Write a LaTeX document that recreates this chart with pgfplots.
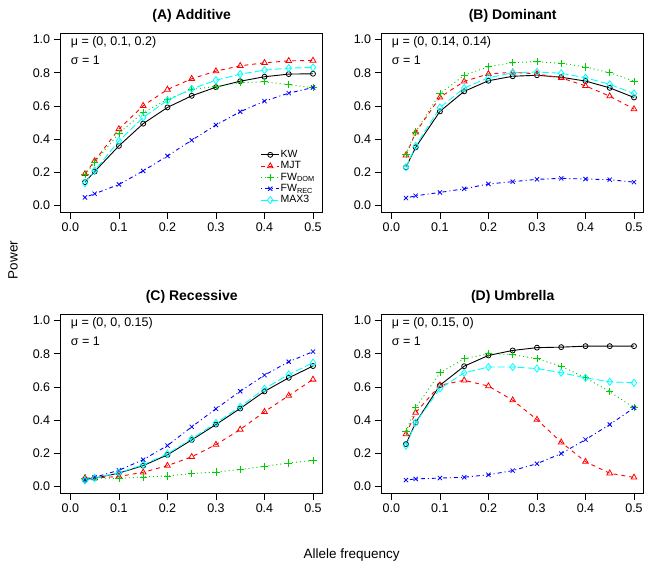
\documentclass[border=0pt]{standalone}
\usepackage{fontspec}
\setmainfont{Liberation Sans}
\usepackage{pgfplots}
\usepackage{pgfplotstable}
\pgfplotsset{compat=1.18}
\definecolor{rgreen}{HTML}{00CD00}
\definecolor{rcyan}{HTML}{00FFFF}
\definecolor{rred}{HTML}{FF0000}
\definecolor{rblue}{HTML}{0000FF}

% columns: allele frequency, KW, MJT, FW_DOM, FW_REC, MAX3
\pgfplotstableread{
x    kw    mjt   dom   rec   max
0.03 0.140 0.190 0.184 0.048 0.134
0.05 0.204 0.268 0.260 0.070 0.210
0.10 0.359 0.461 0.435 0.126 0.389
0.15 0.493 0.601 0.561 0.208 0.531
0.20 0.591 0.699 0.639 0.298 0.633
0.25 0.661 0.764 0.700 0.393 0.703
0.30 0.713 0.810 0.717 0.485 0.755
0.35 0.749 0.842 0.741 0.565 0.792
0.40 0.776 0.860 0.745 0.629 0.816
0.45 0.792 0.872 0.729 0.677 0.828
0.50 0.794 0.874 0.709 0.711 0.832
}\additive
\pgfplotstableread{
x    kw    mjt   dom   rec   max
0.03 0.230 0.302 0.308 0.044 0.230
0.05 0.350 0.440 0.443 0.058 0.358
0.10 0.567 0.652 0.674 0.078 0.590
0.15 0.688 0.748 0.785 0.100 0.708
0.20 0.752 0.793 0.837 0.129 0.770
0.25 0.779 0.803 0.861 0.143 0.800
0.30 0.785 0.793 0.867 0.157 0.805
0.35 0.773 0.769 0.857 0.163 0.797
0.40 0.750 0.721 0.835 0.159 0.770
0.45 0.709 0.659 0.800 0.155 0.730
0.50 0.651 0.581 0.749 0.140 0.675
}\dominant
\pgfplotstableread{
x    kw    mjt   dom   rec   max
0.03 0.040 0.050 0.050 0.040 0.035
0.05 0.050 0.050 0.050 0.055 0.050
0.10 0.080 0.060 0.048 0.097 0.082
0.15 0.125 0.085 0.057 0.161 0.130
0.20 0.190 0.125 0.063 0.246 0.196
0.25 0.280 0.178 0.077 0.359 0.287
0.30 0.373 0.252 0.087 0.468 0.383
0.35 0.470 0.343 0.101 0.574 0.480
0.40 0.573 0.450 0.121 0.671 0.589
0.45 0.655 0.548 0.141 0.752 0.675
0.50 0.726 0.645 0.157 0.813 0.746
}\recessive
\pgfplotstableread{
x    kw    mjt   dom   rec   max
0.03 0.255 0.315 0.330 0.038 0.245
0.05 0.385 0.445 0.475 0.045 0.385
0.10 0.610 0.610 0.685 0.050 0.590
0.15 0.725 0.640 0.770 0.055 0.685
0.20 0.790 0.605 0.800 0.070 0.720
0.25 0.820 0.520 0.795 0.095 0.720
0.30 0.837 0.403 0.770 0.137 0.711
0.35 0.840 0.266 0.725 0.198 0.686
0.40 0.846 0.149 0.655 0.282 0.655
0.45 0.846 0.079 0.571 0.373 0.631
0.50 0.846 0.054 0.474 0.474 0.625
}\umbrella

\pgfplotsset{
  panel/.style={
    scale only axis, width=262pt, height=179pt,
    xmin=-0.02, xmax=0.52, ymin=-0.04, ymax=1.04,
    xtick={0,0.1,0.2,0.3,0.4,0.5}, ytick={0,0.2,0.4,0.6,0.8,1},
    tick align=outside, xtick pos=left, ytick pos=left,
    major tick length=7pt,
    axis line style={line width=0.8pt},
    tick style={line width=0.6pt, black},
    ticklabel style={font=\fontsize{12.5}{14}\selectfont},
    /pgf/number format/fixed, /pgf/number format/fixed zerofill,
    /pgf/number format/precision=1, /pgf/number format/assume math mode=true,
    title style={font=\fontsize{14}{16}\selectfont\bfseries, at={(0.5,1)}, anchor=center, yshift=11pt},
    every axis plot/.append style={line width=0.9pt, mark options={solid, line width=0.8pt}},
    legend image code/.code={\draw[mark repeat=2, mark phase=2, ##1] plot coordinates {(0pt,0pt) (9pt,0pt) (18pt,0pt)};},
  },
  kw/.style={black, solid, mark=o, mark size=2.5pt},
  mjt/.style={rred, dash pattern=on 4pt off 4pt, mark=triangle, mark size=3.3pt},
  dom/.style={rgreen, dash pattern=on 1pt off 3pt, mark=+, mark size=3.6pt},
  rec/.style={rblue, dash pattern=on 1pt off 3pt on 4pt off 3pt, mark=x, mark size=3pt},
  max/.style={rcyan, dash pattern=on 7pt off 3pt, mark=diamond, mark size=3.6pt},
}

\newcommand{\allseries}[1]{%
  \addplot[kw] table[x=x, y=kw] {#1};
  \addplot[mjt] table[x=x, y=mjt] {#1};
  \addplot[dom] table[x=x, y=dom] {#1};
  \addplot[rec] table[x=x, y=rec] {#1};
  \addplot[max] table[x=x, y=max] {#1};
}
\newcommand{\params}[1]{%
  \node[anchor=west, font=\fontsize{12.5}{14}\selectfont, inner sep=0pt] at (rel axis cs:0.038,0.946) {μ = #1};
  \node[anchor=west, font=\fontsize{12.5}{14}\selectfont, inner sep=0pt] at (rel axis cs:0.038,0.849) {σ = 1};
}

\begin{document}
\begin{tikzpicture}
\useasboundingbox (0pt,0pt) rectangle (651pt,570pt);

\begin{axis}[panel, at={(60.7pt,358pt)}, anchor=south west, title={(A) Additive},
  legend style={at={(0.763,0.352)}, anchor=north west, draw=none, fill=none,
    font=\fontsize{10.5}{11}\selectfont, inner sep=0pt, row sep=0pt,
    nodes={inner sep=1pt, text height=7.3pt, text depth=2pt}},
  legend cell align=left]
  \allseries{\additive}
  \legend{KW, MJT, FW\textsubscript{DOM}, FW\textsubscript{REC}, MAX3}
  \params{(0, 0.1, 0.2)}
\end{axis}

\begin{axis}[panel, at={(381.7pt,358pt)}, anchor=south west, title={(B) Dominant}]
  \allseries{\dominant}
  \params{(0, 0.14, 0.14)}
\end{axis}

\begin{axis}[panel, at={(60.7pt,77pt)}, anchor=south west, title={(C) Recessive}]
  \allseries{\recessive}
  \params{(0, 0, 0.15)}
\end{axis}

\begin{axis}[panel, at={(381.7pt,77pt)}, anchor=south west, title={(D) Umbrella}]
  \allseries{\umbrella}
  \params{(0, 0.15, 0)}
\end{axis}

\node[rotate=90, font=\fontsize{13.5}{16}\selectfont] at (13pt,310pt) {Power};
\node[font=\fontsize{13.5}{16}\selectfont] at (351.7pt,15pt) {Allele frequency};
\end{tikzpicture}
\end{document}
